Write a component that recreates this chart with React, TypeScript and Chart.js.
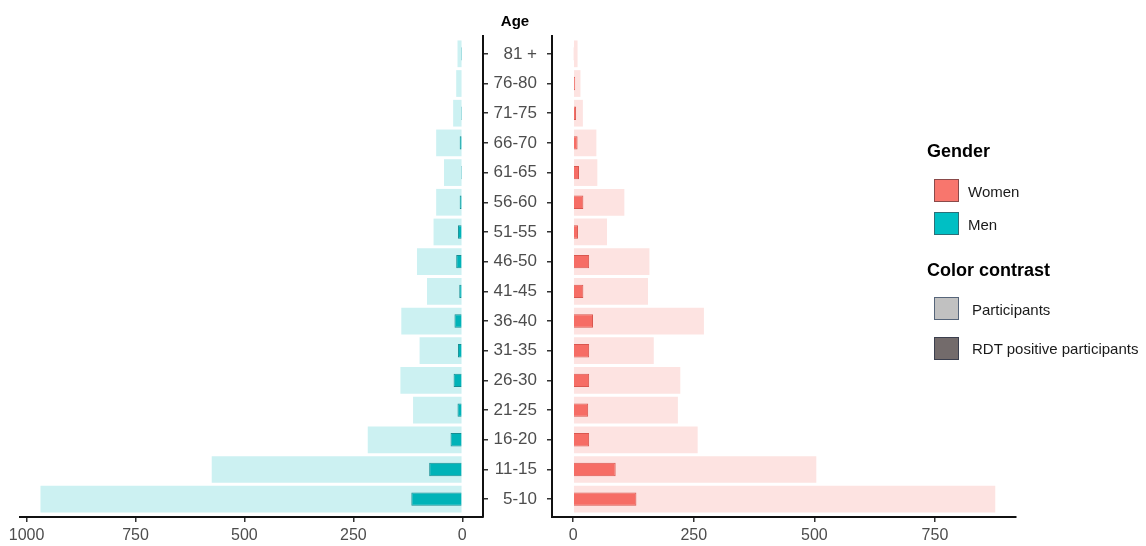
import React, { useEffect, useRef } from 'react';
import { Chart, registerables } from 'chart.js';

Chart.register(...registerables);

// Age groups from bottom (index 0) to top
const ageGroups = ['5-10', '11-15', '16-20', '21-25', '26-30', '31-35', '36-40', '41-45', '46-50', '51-55', '56-60', '61-65', '66-70', '71-75', '76-80', '81 +'];

const menParticipants = [968, 575, 217, 113, 142, 98, 140, 81, 104, 66, 60, 42, 60, 21, 14, 11];
const menPositive = [117, 76, 27, 11, 20, 10, 18, 7, 14, 10, 6, 3, 6, 3, 0, 3];
const womenParticipants = [875, 504, 258, 217, 222, 167, 271, 155, 158, 70, 106, 50, 48, 20, 15, 9];
const womenPositive = [131, 88, 33, 31, 33, 33, 41, 21, 33, 10, 21, 12, 9, 6, 4, 1];

const menTicks = [0, 250, 500, 750, 1000];
const womenTicks = [0, 250, 500, 750];

const FONT = "'Liberation Sans', Arial, Helvetica, sans-serif";

function toPoints(values: number[]) {
  return values.map((v, i) => ({ x: v, y: i }));
}

function makeConfig(side: 'men' | 'women'): any {
  const men = side === 'men';
  return {
    type: 'bar',
    data: {
      datasets: [
        {
          label: 'RDT positive participants',
          data: toPoints(men ? menPositive : womenPositive),
          backgroundColor: men ? '#00b3b8' : '#f66d65',
          borderColor: men ? '#168d92' : '#d9574f',
          borderWidth: 1,
          barPercentage: 0.45,
          categoryPercentage: 1,
          grouped: false,
        },
        {
          label: 'Participants',
          data: toPoints(men ? menParticipants : womenParticipants),
          backgroundColor: men ? '#ccf1f2' : '#fde3e1',
          borderWidth: 0,
          barPercentage: 0.9,
          categoryPercentage: 1,
          grouped: false,
        },
      ],
    },
    options: {
      indexAxis: 'y',
      animation: false,
      responsive: true,
      maintainAspectRatio: false,
      layout: {
        padding: men
          ? { left: 20, top: 36, right: 0, bottom: 0 }
          : { left: 0, top: 36, right: 24, bottom: 0 },
      },
      plugins: {
        legend: { display: false },
        tooltip: { enabled: false },
      },
      scales: {
        x: {
          type: 'linear',
          reverse: men,
          min: men ? -47.5 : -44,
          max: men ? 1015 : 918,
          afterBuildTicks: (s: any) => {
            s.ticks = (men ? menTicks : womenTicks).map((v) => ({ value: v }));
          },
          afterFit: (s: any) => {
            s.height = 29;
          },
          ticks: {
            color: '#4d4d4d',
            font: { family: FONT, size: 16 },
            padding: 4,
            maxRotation: 0,
            autoSkip: false,
            callback: (v: any) => String(v),
          },
          grid: { drawOnChartArea: false, drawTicks: true, tickLength: 5, color: '#333', lineWidth: 1.5 },
          border: { display: true, color: '#111', width: 2 },
        },
        y: {
          type: 'linear',
          offset: false,
          min: -0.6,
          max: 15.6,
          position: men ? 'right' : 'left',
          afterBuildTicks: (s: any) => {
            s.ticks = ageGroups.map((_, i) => ({ value: i }));
          },
          afterFit: (s: any) => {
            s.width = men ? 17 : 92;
          },
          ticks: {
            display: !men,
            autoSkip: false,
            padding: 10,
            color: '#4d4d4d',
            font: { family: FONT, size: 17 },
            callback: (v: any) => ageGroups[Number(v)] ?? '',
          },
          grid: { offset: false, drawOnChartArea: false, drawTicks: true, tickLength: 5, color: '#333', lineWidth: 1.5 },
          border: { display: true, color: '#111', width: 2 },
        },
      },
    },
  };
}

function Pyramid({ side, left, width }: { side: 'men' | 'women'; left: number; width: number }) {
  const ref = useRef<HTMLCanvasElement | null>(null);
  useEffect(() => {
    if (!ref.current) return;
    const chart = new Chart(ref.current, makeConfig(side));
    return () => chart.destroy();
  }, [side]);
  return (
    <div style={{ position: 'absolute', left, top: 0, width, height: 546 }}>
      <canvas ref={ref} />
    </div>
  );
}

function Txt({ x, baseline, size, bold, children, center, color }: any) {
  const top = baseline - 0.8465 * size;
  return (
    <div
      style={{
        position: 'absolute',
        left: x,
        top,
        fontFamily: FONT,
        fontSize: size,
        lineHeight: `${size}px`,
        fontWeight: bold ? 'bold' : 'normal',
        color: color || '#1a1a1a',
        whiteSpace: 'nowrap',
        transform: center ? 'translateX(-50%)' : undefined,
      }}
    >
      {children}
    </div>
  );
}

function Swatch({ x, y, fill, stroke }: any) {
  return (
    <div
      style={{
        position: 'absolute',
        left: x,
        top: y,
        width: 25,
        height: 23,
        boxSizing: 'border-box',
        background: fill,
        border: `1px solid ${stroke}`,
      }}
    />
  );
}

export default function App() {
  return (
    <div style={{ position: 'absolute', left: 0, top: 0, width: 1146, height: 546, background: '#fff', overflow: 'hidden' }}>
      <Pyramid side="men" left={0} width={500} />
      <Pyramid side="women" left={460} width={580} />
      <Txt x={515} baseline={26} size={15} bold center color="#000">Age</Txt>

      <Txt x={927} baseline={157} size={18} bold color="#000">Gender</Txt>
      <Swatch x={934} y={179} fill="#f8766d" stroke="#8a4a4a" />
      <Txt x={968} baseline={197} size={15}>Women</Txt>
      <Swatch x={934} y={212} fill="#00bfc4" stroke="#2c6f78" />
      <Txt x={968} baseline={230} size={15}>Men</Txt>

      <Txt x={927} baseline={276.5} size={18} bold color="#000">Color contrast</Txt>
      <Swatch x={934} y={297} fill="#c1c1c1" stroke="#56657a" />
      <Txt x={972} baseline={315} size={15}>Participants</Txt>
      <Swatch x={934} y={337} fill="#736b6b" stroke="#3b3f4e" />
      <Txt x={972} baseline={353.5} size={15}>RDT positive participants</Txt>
    </div>
  );
}
